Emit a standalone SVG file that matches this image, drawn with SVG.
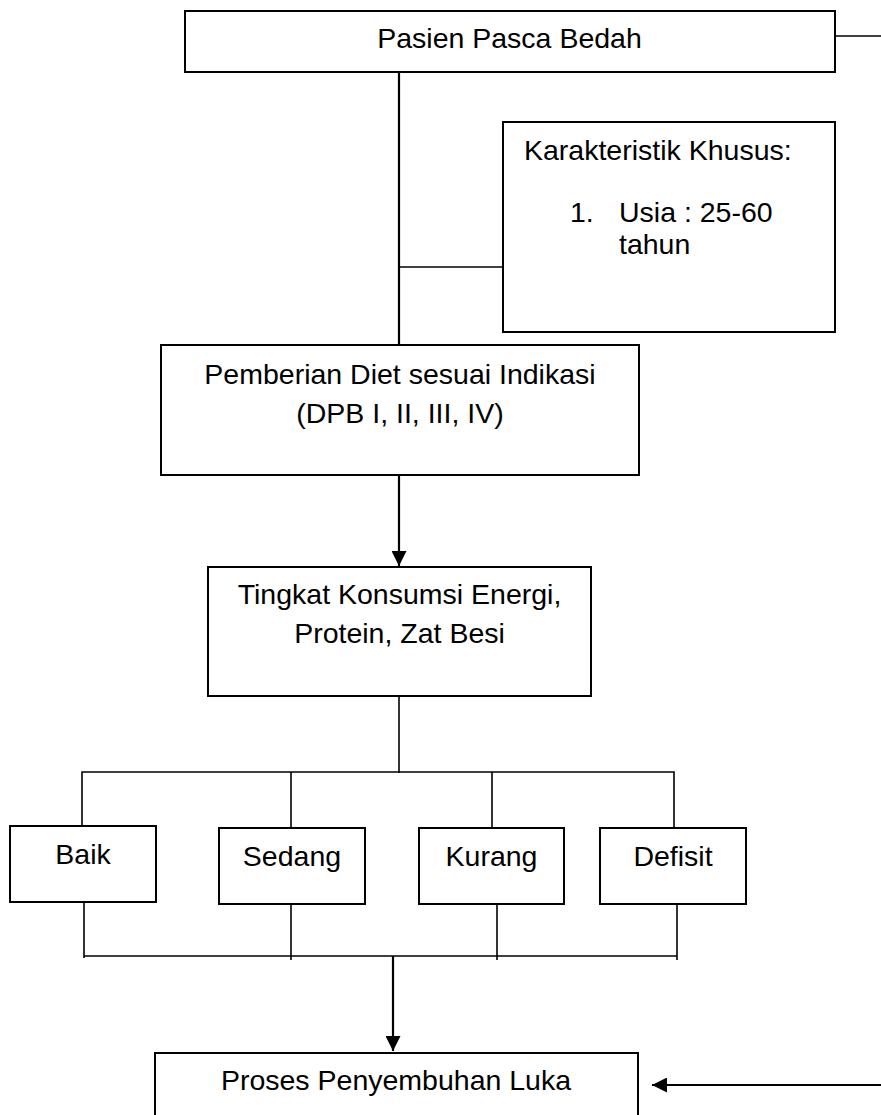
<svg xmlns="http://www.w3.org/2000/svg" width="881" height="1115" viewBox="0 0 881 1115">
<style>
.box{fill:#fff;stroke:#000;stroke-width:2}
.ln{fill:none;stroke:#000;stroke-width:1.6}
.lnb{fill:none;stroke:#000;stroke-width:2.2}
text{font-family:"Liberation Sans",Arial,sans-serif;font-size:28.5px;fill:#000}
.c{text-anchor:middle}
</style>
<defs>
<marker id="ah" markerWidth="15" markerHeight="15" refX="15" refY="7.5" orient="auto" markerUnits="userSpaceOnUse">
<path d="M0,0 L15,7.5 L0,15 Z" fill="#000"/>
</marker>
</defs>
<rect width="881" height="1115" fill="#fff"/>
<g id="connectors">
<line class="ln" x1="835" y1="36" x2="881" y2="36"/>
<line class="lnb" x1="399" y1="67" x2="399" y2="345"/>
<line class="ln" x1="399" y1="267" x2="503" y2="267"/>
<line class="lnb" x1="399" y1="474" x2="399" y2="566" marker-end="url(#ah)"/>
<line class="ln" x1="399" y1="696" x2="399" y2="773"/>
<polyline class="ln" points="82,828 82,772 674,772 674,828"/>
<line class="ln" x1="291" y1="772" x2="291" y2="828"/>
<line class="ln" x1="492" y1="772" x2="492" y2="828"/>
<line class="ln" x1="84" y1="899" x2="84" y2="958"/>
<line class="ln" x1="291" y1="900" x2="291" y2="960"/>
<line class="ln" x1="497" y1="900" x2="497" y2="960"/>
<line class="ln" x1="677" y1="900" x2="677" y2="960"/>
<line class="ln" x1="84" y1="956" x2="677" y2="956"/>
<line class="lnb" x1="393" y1="956" x2="393" y2="1051" marker-end="url(#ah)"/>
<line class="lnb" x1="881" y1="1085" x2="652" y2="1085" marker-end="url(#ah)"/>
</g>
<g id="pasien">
<rect class="box" x="185" y="11" width="650" height="61"/>
<text class="c" x="509.5" y="48">Pasien Pasca Bedah</text>
</g>
<g id="karakteristik">
<rect class="box" x="503" y="122" width="332" height="210"/>
<text x="524" y="160">Karakteristik Khusus:</text>
<text x="570" y="222">1.</text>
<text x="619" y="222">Usia : 25-60</text>
<text x="619" y="254">tahun</text>
</g>
<g id="pemberian">
<rect class="box" x="161" y="345" width="478" height="130"/>
<text class="c" x="400" y="384">Pemberian Diet sesuai Indikasi</text>
<text class="c" x="400" y="423">(DPB I, II, III, IV)</text>
</g>
<g id="tingkat">
<rect class="box" x="208" y="567" width="383" height="129"/>
<text class="c" x="399.5" y="604">Tingkat Konsumsi Energi,</text>
<text class="c" x="399.5" y="643">Protein, Zat Besi</text>
</g>
<g id="baik">
<rect class="box" x="10" y="826" width="146" height="76"/>
<text class="c" x="83" y="864">Baik</text>
</g>
<g id="sedang">
<rect class="box" x="219" y="828" width="146" height="76"/>
<text class="c" x="292" y="866">Sedang</text>
</g>
<g id="kurang">
<rect class="box" x="419" y="828" width="145" height="76"/>
<text class="c" x="491.5" y="866">Kurang</text>
</g>
<g id="defisit">
<rect class="box" x="600" y="828" width="146" height="76"/>
<text class="c" x="673" y="866">Defisit</text>
</g>
<g id="proses">
<rect class="box" x="155" y="1053" width="483" height="80"/>
<text class="c" x="396" y="1090">Proses Penyembuhan Luka</text>
</g>
</svg>
